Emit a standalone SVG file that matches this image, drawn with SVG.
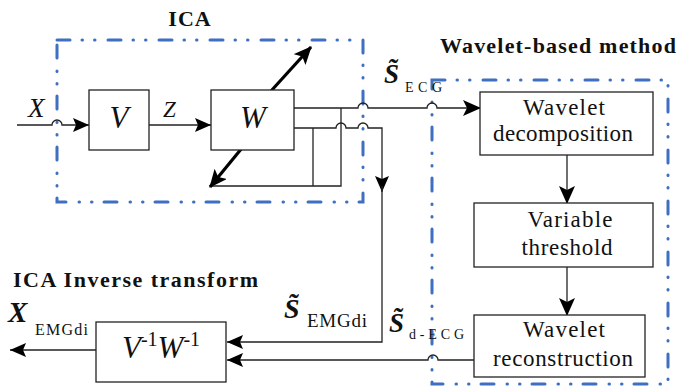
<svg xmlns="http://www.w3.org/2000/svg" width="678" height="386" viewBox="0 0 678 386">
<style>
.blk{fill:#fff;stroke:#222;stroke-width:1.3}
.ln{fill:none;stroke:#222;stroke-width:1.3}
.thk{fill:none;stroke:#000;stroke-width:3.2}
.grp{fill:none;stroke:#3F6FC0;stroke-width:3;stroke-dasharray:13 12 0.5 12 0.5 13;stroke-linecap:round}
.t{font-family:"Liberation Serif","Times New Roman",serif;fill:#111}
.ttl{font-weight:bold;font-size:22px}
.box{font-size:23px}
.it{font-style:italic}
.bi{font-style:italic;font-weight:bold}
</style>
<defs>
<marker id="a" markerUnits="userSpaceOnUse" markerWidth="17" markerHeight="14" refX="16" refY="7" orient="auto">
<path d="M0,0 L16,7 L0,14 L3,7 z" fill="#000"/>
</marker>
<marker id="ab" markerUnits="userSpaceOnUse" markerWidth="19" markerHeight="16" refX="17" refY="8" orient="auto">
<path d="M0,0 L18,8 L0,16 L4,8 z" fill="#000"/>
</marker>
</defs>
<rect width="678" height="386" fill="#fff"/>

<g id="groups">
<rect id="ica-group" class="grp" x="57" y="40" width="306" height="162"/>
<rect id="wavelet-group" class="grp" x="432" y="80" width="236" height="304"/>
</g>

<g id="connectors">
<path class="ln" d="M17,125 H52 A5,5 0 0 1 62,125 H89" marker-end="url(#a)"/>
<path class="ln" d="M149,125 H211" marker-end="url(#a)"/>
<path class="ln" d="M294,108 H358 A5,5 0 0 1 368,108 H427 A5,5 0 0 1 437,108 H480" marker-end="url(#ab)"/>
<path class="ln" d="M294,128 H336 A5,5 0 0 1 346,128 H358 A5,5 0 0 1 368,128 H382 V192" marker-end="url(#a)"/>
<path class="ln" d="M382,186 V342 H227" marker-end="url(#a)"/>
<path class="ln" d="M341,108 V186 H212"/>
<path class="ln" d="M313,128 V186"/>
<path class="thk" d="M271,91 L311,47" marker-end="url(#ab)"/>
<path class="thk" d="M242,148 L210,187" marker-end="url(#ab)"/>
<path class="ln" d="M567,155 V203" marker-end="url(#ab)"/>
<path class="ln" d="M567,267 V315" marker-end="url(#ab)"/>
<path class="ln" d="M474,360 H438 A5,5 0 0 0 428,360 H227" marker-end="url(#a)"/>
<path class="ln" d="M96,350 H10" marker-end="url(#a)"/>
</g>

<g id="node-V">
<rect class="blk" x="89" y="90" width="60" height="60"/>
<text class="t it" x="119" y="128" font-size="31" text-anchor="middle">V</text>
</g>
<g id="node-W">
<rect class="blk" x="211" y="90" width="83" height="60"/>
<text class="t it" x="253" y="128" font-size="31" text-anchor="middle">W</text>
</g>
<g id="node-decomp">
<rect class="blk" x="480" y="92" width="173" height="63"/>
<text class="t box" x="564" y="115" text-anchor="middle" textLength="82" lengthAdjust="spacing">Wavelet</text>
<text class="t box" x="563" y="141" text-anchor="middle" textLength="140" lengthAdjust="spacing">decomposition</text>
</g>
<g id="node-threshold">
<rect class="blk" x="474" y="203" width="179" height="64"/>
<text class="t box" x="570" y="227" text-anchor="middle" textLength="85" lengthAdjust="spacing">Variable</text>
<text class="t box" x="567" y="255" text-anchor="middle" textLength="91" lengthAdjust="spacing">threshold</text>
</g>
<g id="node-recon">
<rect class="blk" x="474" y="315" width="171" height="62"/>
<text class="t box" x="564" y="337" text-anchor="middle" textLength="82" lengthAdjust="spacing">Wavelet</text>
<text class="t box" x="563" y="366" text-anchor="middle" textLength="140" lengthAdjust="spacing">reconstruction</text>
</g>
<g id="node-inverse">
<rect class="blk" x="96" y="322" width="130" height="60"/>
<text class="t it" x="122" y="358" font-size="31">V<tspan font-style="normal" font-size="20" dy="-12">-1</tspan><tspan dy="12">W</tspan><tspan font-style="normal" font-size="20" dy="-12">-1</tspan></text>
</g>

<g id="labels">
<text class="t ttl" x="190" y="26" text-anchor="middle" letter-spacing="1">ICA</text>
<text class="t ttl" x="440" y="53" textLength="236" lengthAdjust="spacing">Wavelet-based method</text>
<text class="t ttl" x="13" y="287" textLength="245" lengthAdjust="spacing">ICA Inverse transform</text>
<text class="t it" x="28" y="117" font-size="27">X</text>
<text class="t it" x="163" y="117" font-size="23">Z</text>
<text class="t bi" x="384" y="83" font-size="27">S̃</text>
<text class="t" x="405" y="92" font-size="14" textLength="37" lengthAdjust="spacing">ECG</text>
<text class="t bi" x="284" y="318" font-size="28">S̃</text>
<text class="t" x="307" y="327" font-size="19" textLength="60" lengthAdjust="spacing">EMGdi</text>
<text class="t bi" x="389" y="332" font-size="27">S̃</text>
<text class="t" x="409" y="339" font-size="14" textLength="55" lengthAdjust="spacing">d-ECG</text>
<text class="t bi" x="8" y="322" font-size="29">X</text>
<text class="t" x="35" y="335" font-size="16" textLength="53" lengthAdjust="spacing">EMGdi</text>
</g>
</svg>
